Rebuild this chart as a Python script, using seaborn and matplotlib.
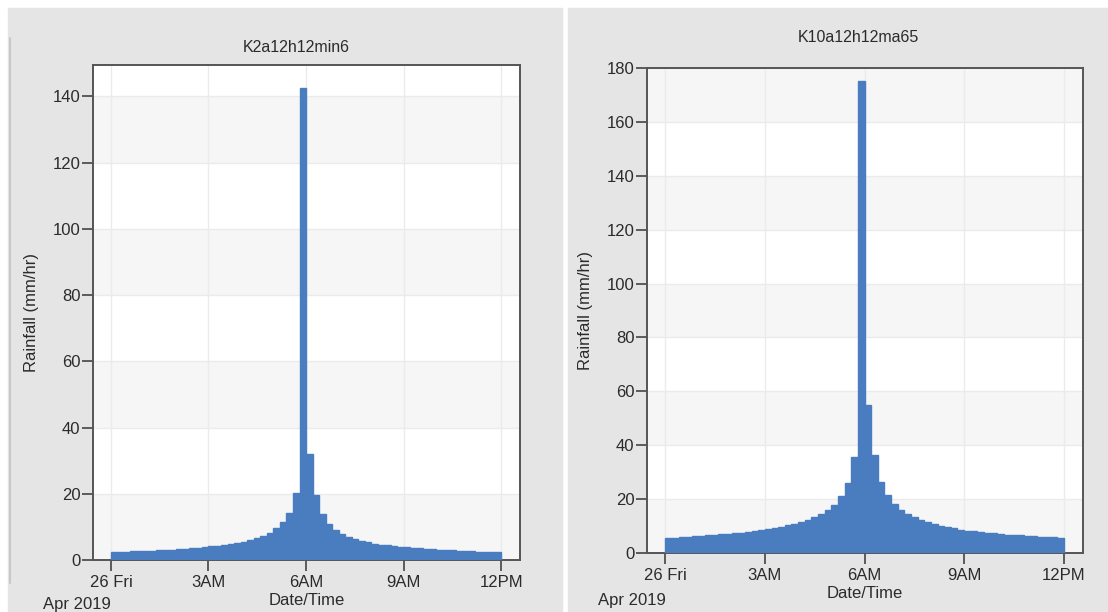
import numpy as np
import pandas as pd
import matplotlib
matplotlib.use('Agg')
import matplotlib.pyplot as plt
import seaborn as sns
from matplotlib.patches import Rectangle
from matplotlib.lines import Line2D

# 12-minute rainfall intensities (mm/hr), 26 Apr 2019 00:00 - 12:00
rain_k2 = [2.38, 2.45, 2.52, 2.60, 2.68, 2.76, 2.85, 2.95, 3.05, 3.17,
           3.30, 3.42, 3.57, 3.72, 3.90, 4.10, 4.30, 4.50, 4.80, 5.10,
           5.50, 5.90, 6.50, 7.30, 8.30, 9.60, 11.6, 14.3, 20.3, 142.5,
           32.0, 19.6, 13.8, 10.8, 9.00, 7.80, 6.90, 6.20, 5.70, 5.30,
           4.95, 4.65, 4.40, 4.20, 4.00, 3.80, 3.65, 3.50, 3.35, 3.25,
           3.10, 3.00, 2.90, 2.80, 2.72, 2.64, 2.56, 2.49, 2.42, 2.35]

rain_k10 = [5.60, 5.75, 5.90, 6.05, 6.20, 6.40, 6.55, 6.70, 6.90, 7.10,
            7.30, 7.55, 7.80, 8.10, 8.40, 8.75, 9.20, 9.70, 10.3, 10.9,
            11.5, 12.3, 13.2, 14.3, 15.8, 17.9, 21.0, 25.8, 35.5, 175.0,
            55.0, 36.2, 26.2, 21.4, 18.2, 16.0, 14.5, 13.3, 12.3, 11.4,
            10.7, 10.1, 9.60, 9.10, 8.70, 8.35, 8.05, 7.75, 7.50, 7.25,
            7.05, 6.85, 6.65, 6.50, 6.35, 6.20, 6.05, 5.90, 5.80, 5.70]

step_hr = 12 / 60
n_steps = len(rain_k2)
edges = [i * step_hr for i in range(n_steps + 1)]
centers = [e + step_hr / 2 for e in edges[:-1]]

tick_hours = [0, 3, 6, 9, 12]
tick_labels = ['26 Fri', '3AM', '6AM', '9AM', '12PM']

BLUE = '#4a7dbf'
TEXT = '#2b2b2b'
PANEL = '#e5e5e5'
FS = 12

sns.set_theme(style='white')
plt.rcParams['font.family'] = ['Liberation Sans', 'DejaVu Sans']

fig = plt.figure(figsize=(11.08, 6.12), dpi=100)
fig.patch.set_facecolor('white')
W, H = 1108, 612

def px_rect(x0, y0, x1, y1, color):
    fig.patches.append(Rectangle((x0 / W, 1 - y1 / H), (x1 - x0) / W, (y1 - y0) / H,
                                 transform=fig.transFigure, color=color, zorder=-10))

# gray screenshot panels
px_rect(8, 8, 562, 612, PANEL)
px_rect(568, 8, 1108, 612, PANEL)
fig.lines.append(Line2D([9.5 / W, 9.5 / W], [1 - 583 / H, 1 - 38 / H], transform=fig.transFigure,
                        color='#c8c8c8', lw=1.5))


def add_axes_px(x0, y0, x1, y1):
    return fig.add_axes([x0 / W, 1 - y1 / H, (x1 - x0) / W, (y1 - y0) / H])


def draw(ax, values, title, ymax, ytop, title_x, title_y):
    df = pd.DataFrame({'hour': centers, 'rain': values})
    ax.set_facecolor('white')
    for lo in range(0, ymax + 1, 40):
        ax.axhspan(lo, lo + 20, color='#f6f6f6', lw=0, zorder=0)
    sns.histplot(data=df, x='hour', weights='rain', bins=edges, ax=ax,
                 color=BLUE, alpha=1, edgecolor=BLUE, linewidth=1.0, zorder=3)
    ax.set_xlim(-0.55, 12.58)
    ax.set_ylim(0, ytop)
    ax.set_xticks(tick_hours)
    ax.set_xticklabels(tick_labels)
    ax.set_yticks(np.arange(0, ymax + 1, 20))
    ax.set_axisbelow(True)
    ax.grid(True, color='#ebebeb', lw=1)
    ax.tick_params(bottom=True, left=True, direction='out', length=8, width=1.2,
                   color='#444444', labelsize=FS, labelcolor=TEXT)
    ax.tick_params(axis='x', pad=3)
    ax.tick_params(axis='y', pad=1)
    for sp in ax.spines.values():
        sp.set_visible(True)
        sp.set_color('#555555')
        sp.set_linewidth(1.4)
    ax.set_xlabel('Date/Time', fontsize=FS, color=TEXT, labelpad=2)
    ax.set_ylabel('Rainfall (mm/hr)', fontsize=FS, color=TEXT, labelpad=10)
    fig.text(title_x / W, 1 - title_y / H, title,
             ha='center', va='center', fontsize=11.5, color=TEXT)


ax1 = add_axes_px(93, 65, 520, 560)
draw(ax1, rain_k2, 'K2a12h12min6', 140, 149.5, 296, 47)
fig.text(43 / W, 1 - 604 / H, 'Apr 2019', ha='left', va='center', fontsize=FS, color=TEXT)

ax2 = add_axes_px(647, 68, 1083, 553)
draw(ax2, rain_k10, 'K10a12h12ma65', 180, 180, 858, 37)
fig.text(598 / W, 1 - 600 / H, 'Apr 2019', ha='left', va='center', fontsize=FS, color=TEXT)

fig.savefig('out.png', dpi=100)
